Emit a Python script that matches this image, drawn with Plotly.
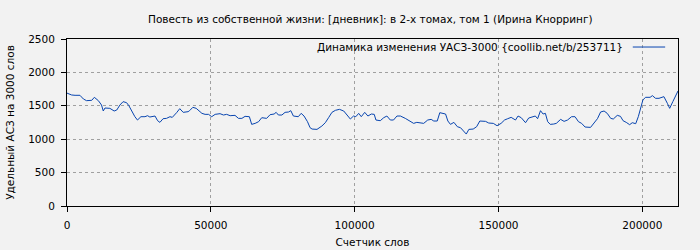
import plotly.graph_objects as go

words = [0, 1600, 2800, 4500, 5700, 6800, 8600, 9500, 10900, 12000, 12600, 13200, 14900, 16400,
         17300, 18400, 19500, 20700, 21500, 22500, 23600, 24500, 25700, 27100, 28000, 28800,
         30600, 31500, 32300, 33400, 34600, 35800, 36600, 38100, 39200, 40400, 42100,
         42600, 43750, 44900, 45700, 46900, 48000, 49200, 50300, 51500, 53200, 54400, 55500,
         56700, 58400, 59600, 60800, 61900, 63400, 64200, 65400, 66600, 67700, 69400, 70600,
         72000, 72700, 73500, 74700, 75800, 77000, 77800, 78700, 80400, 81400, 82400, 83600, 84500,
         85200, 86900, 88600, 89800, 91000, 92100, 93300, 94700, 96200, 97300, 98500, 99600,
         100400, 101400, 102300, 103500, 104600, 105800, 106800, 107400, 108900, 110100, 111200,
         112400, 113500, 114700, 115900, 117600, 119300, 120500, 121600, 124000, 125400, 126600,
         127500, 128700, 129600, 130800, 131600, 132400, 133300, 134500, 135700, 136800, 137700,
         138800, 139700, 141200, 142400, 143500, 145500, 146600, 148200, 149500, 150900, 152100,
         153200, 154400, 155900, 156800, 157900, 159400, 160500, 161700, 162800, 163600, 164600,
         165500, 166300, 167100, 168000, 169200,
         170100, 171600, 172800, 174000, 175400, 176600, 177800, 178900, 180100, 182000, 183200,
         184400, 185500, 186700, 187800, 189000, 189900, 191300, 192400, 193300, 194400, 195600,
         196500, 197700, 198600, 199400, 200200, 201100, 202700, 203500, 204600, 205800, 207500,
         208700, 209500, 210600, 211800, 212400]

asz = [1690, 1662, 1657, 1657, 1602, 1577, 1582, 1627, 1577, 1512, 1422, 1467, 1462, 1422,
       1437, 1512, 1562, 1547, 1502, 1412, 1337, 1287, 1337, 1337, 1352, 1332,
       1347, 1277, 1252, 1307, 1312, 1337, 1327, 1397, 1457, 1402, 1412,
       1427, 1477, 1462, 1437, 1387, 1372, 1372, 1337, 1372, 1382, 1362, 1372,
       1352, 1357, 1312, 1312, 1342, 1337, 1222, 1237, 1262, 1322, 1312, 1367,
       1377, 1402, 1362, 1362, 1402, 1407, 1427, 1347, 1337, 1387, 1347, 1262, 1172,
       1152, 1147, 1197, 1247, 1327, 1402, 1432, 1447, 1422, 1372, 1302, 1347,
       1337, 1387, 1337, 1402, 1347, 1377, 1372, 1287, 1277, 1322, 1347,
       1287, 1287, 1347, 1347, 1312, 1262, 1237, 1252, 1237, 1287, 1297,
       1272, 1272, 1397, 1387, 1377, 1272, 1222, 1252, 1187, 1172, 1122,
       1077, 1147, 1152, 1187, 1272, 1267, 1242, 1237, 1202, 1237, 1287,
       1307, 1327, 1287, 1347, 1322, 1247, 1317, 1337, 1347, 1307, 1427,
       1377, 1387, 1262, 1222, 1227,
       1237, 1297, 1267, 1287, 1337, 1337, 1262, 1237, 1182, 1177, 1237,
       1307, 1407, 1422, 1387, 1312, 1302, 1357, 1342, 1277, 1252, 1217,
       1247, 1232, 1337, 1487, 1587, 1627, 1627, 1652, 1612, 1612, 1637,
       1537, 1462, 1562, 1687, 1722]

x_ticks = [0, 50000, 100000, 150000, 200000]
y_ticks = [0, 500, 1000, 1500, 2000, 2500]

title_text = "Повесть из собственной жизни: [дневник]: в 2-х томах, том 1 (Ирина Кнорринг)"
series_name = "Динамика изменения УАСЗ-3000 {coollib.net/b/253711}"
x_title = "Счетчик слов"
y_title = "Удельный АСЗ на 3000 слов"

LINE = "#0845b0"
BG = "#f2f2f2"
FONT = dict(family="DejaVu Sans", size=10.5, color="#000000")

fig = go.Figure()
fig.add_trace(go.Scatter(x=words, y=asz, mode="lines", name=series_name,
                         line=dict(color=LINE, width=1), showlegend=False))

axis_common = dict(showline=True, linecolor="#000000", linewidth=1, mirror=True,
                   ticks="outside", ticklen=5, tickcolor="#000000",
                   showgrid=True, gridcolor="#a0a0a0", gridwidth=1, griddash="3px,3px",
                   zeroline=False, tickfont=FONT, automargin=False)

fig.update_layout(
    width=700, height=250,
    margin=dict(l=67, r=22, t=39, b=44),
    paper_bgcolor=BG, plot_bgcolor=BG,
    font=FONT,
    title=dict(text=title_text, x=0.529, xanchor="center", y=1 - 19 / 250, yanchor="middle",
               font=dict(family="DejaVu Sans", size=10.5)),
    xaxis=dict(range=[0, words[-1]], tickvals=x_ticks, tickformat="d", ticklabelstandoff=4,
               title=dict(text=x_title, standoff=9, font=FONT), **axis_common),
    yaxis=dict(range=[0, 2500], tickvals=y_ticks, tickformat="d", ticklabelstandoff=4,
               title=dict(text=y_title, standoff=11, font=FONT), **axis_common),
    showlegend=False,
)

fig.add_annotation(text=series_name, xref="paper", yref="paper", x=0.914, y=0.952,
                   xanchor="right", yanchor="middle", showarrow=False, font=FONT)
fig.add_shape(type="line", xref="paper", yref="paper", x0=0.926, x1=0.979, y0=0.952, y1=0.952,
              line=dict(color=LINE, width=1))

fig.write_html("out.html")
